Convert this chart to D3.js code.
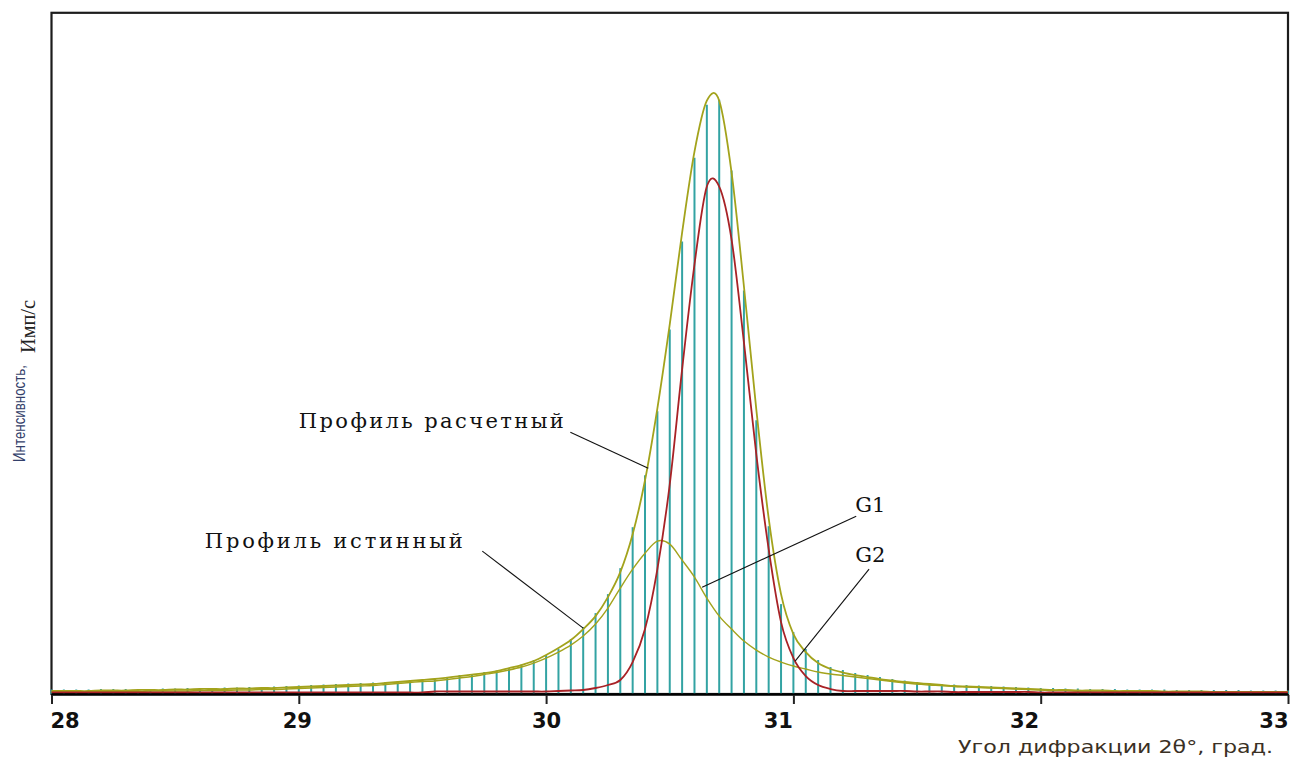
<!DOCTYPE html>
<html><head><meta charset="utf-8">
<script src="https://cdn.jsdelivr.net/npm/d3@7/dist/d3.min.js"></script>
<style>html,body{margin:0;padding:0;background:#fff;} svg{display:block;}</style>
</head><body><svg id="chart" width="1292" height="761"></svg>
<script>
// ---------- DATA ----------
const angles = [
 28.00,28.05,28.10,28.15,28.20,28.25,28.30,28.35,28.40,28.45,
 28.50,28.55,28.60,28.65,28.70,28.75,28.80,28.85,28.90,28.95,
 29.00,29.05,29.10,29.15,29.20,29.25,29.30,29.35,29.40,29.45,
 29.50,29.55,29.60,29.65,29.70,29.75,29.80,29.85,29.90,29.95,
 30.00,30.05,30.10,30.15,30.20,30.25,30.30,30.35,30.40,30.45,
 30.50,30.55,30.60,30.65,30.70,30.75,30.80,30.85,30.90,30.95,
 31.00,31.05,31.10,31.15,31.20,31.25,31.30,31.35,31.40,31.45,
 31.50,31.55,31.60,31.65,31.70,31.75,31.80,31.85,31.90,31.95,
 32.00,32.05,32.10,32.15,32.20,32.25,32.30,32.35,32.40,32.45,
 32.50,32.55,32.60,32.65,32.70,32.75,32.80,32.85,32.90,32.95,
 33.00];
// measured intensity (vertical sticks)
const measured = [
 4.5,4.5,4.5,4.5,5,5,5,5,5,5.5,
 5.5,6,6,6,6.5,6.5,7,7,7.5,8,
 8.5,9,9.5,10,10.5,11,11.5,12,13,14,
 14.5,15.5,17,19,20,22,23.5,26,29.5,34,
 39,45,55,67,81,100,126,167,219,283,
 365,453,537,590,595,524,404,274,168,90,
 62,45,34,27,24,21,19,17,15,13.5,
 12,11,10,9.5,9,8.5,8,7.5,7,6.5,
 6,6,5.5,5.5,5,5,5,4.5,4.5,4.5,
 4.5,4,4,4,4,4,4,3.5,3.5,3.5,
 3.5];
// calculated profile (Профиль расчетный)
const profileCalc = [
 3,3,3,3,3.5,3.5,3.5,4,4,4,
 4.5,4.5,5,5,5,5.5,5.5,6,6,6.5,
 7,7.5,8,8.5,9,9.5,10,11,12,13,
 14,15,16.5,18,19.5,21,23,26,29,33,
 39,46,54,65,78,97,122,160,214,286,
 370,462,543,594,594,522,408,285,176,100,
 60,42,31,25,21.5,19,17,15,13.5,12,
 11,10,9,8,7.5,7,6.5,6,5.5,5,
 4.5,4,4,3.5,3.5,3.5,3,3,3,3,
 2.5,2.5,2.5,2.5,2,2,2,2,2,2,
 2];
// component G1 (narrow peak)
const g1 = [
 1.5,1.5,1.5,1.5,1.5,1.5,1.5,1.5,1.5,1.5,
 1.5,1.5,1.5,1.5,1.5,1.5,1.5,1.5,1.5,1.5,
 1.5,1.5,1.5,1.5,1.5,1.5,1.5,1.5,1.5,1.5,
 1.5,2.5,2.5,2.5,2.5,2.5,2.5,2.5,2.5,2.5,
 2.5,3,3.5,4,6,9,14,32,65,125,
 210,325,430,508,508,455,352,240,145,72,
 36,18,9,5,3,3,3,3,3,3,
 2.5,2.5,2.5,2,2,2,2,2,2,2,
 1.5,1.5,1.5,1.5,1.5,1.5,1.5,1.5,1.5,1.5,
 1.5,1.5,1.5,1.5,1.5,1.5,1.5,1.5,1.5,1.5,
 1.5];
// component G2 (broad peak)
const g2 = [
 2,2,2,2,2.5,2.5,2.5,2.5,3,3,
 3,3,3.5,3.5,3.5,4,4,4.5,4.5,5,
 5.5,6,6.5,7,7.5,8,8.5,9.5,10.5,11.5,
 12.5,13,14.5,16,17.5,19.5,21.5,24,27,31,
 36,42,49,58,70,86,106,125,141,153,
 150,134,117,96,78,65,53,44,37,32,
 28,25,22,20,18.5,17,15.5,14,12.5,11,
 10,9,8.5,7.5,7,6.5,6,5.5,5,4.5,
 4,3.5,3.5,3,3,3,2.5,2.5,2.5,2.5,
 2,2,2,2,2,2,1.5,1.5,1.5,1.5,
 1.5];
const xTickValues = [28, 29, 30, 31, 32, 33];
const xTickLabels = ["28", "29", "30", "31", "32", "33"];
const xTitle = "Угол дифракции 2θ°, град.";
const yTitleMain = "Интенсивность,";
const yTitleUnit = "Имп/с";
// annotation labels: text anchor point and leader line, in data units (angle, intensity)
const annLabels  = ["Профиль расчетный", "Профиль истинный", "G1", "G2"];
const annTextAt  = [[29.00, 266], [28.62, 146], [31.25, 182], [31.25, 132]];
const annLineFrom = [[30.098, 262], [29.742, 143], [31.254, 178], [31.306, 125]];
const annLineTo   = [[30.413, 226], [30.150, 66], [30.631, 107], [31.007, 33]];

// ---------- DRAWING ----------
const svg = d3.select("#chart");
const x = d3.scaleLinear().domain([28, 33]).range([51.5, 1288]);
const y = d3.scaleLinear().domain([0, 682]).range([694, 12.8]);

const OLIVE = "#a3a31c", RED = "#a82226", TEAL = "#33a3a3";

// frame
svg.append("rect")
  .attr("x", x(28)).attr("y", y(682))
  .attr("width", x(33) - x(28)).attr("height", y(0) - y(682))
  .attr("fill", "none").attr("stroke", "#1c1c1c").attr("stroke-width", 2.2);

// sticks
svg.append("g").selectAll("line")
  .data(angles.map((a, i) => ({a, v: measured[i]})))
  .join("line")
  .attr("x1", d => x(d.a)).attr("x2", d => x(d.a))
  .attr("y1", y(0)).attr("y2", d => y(d.v))
  .attr("stroke", TEAL).attr("stroke-width", 2);

const line = d3.line().x(d => x(d.a)).y(d => y(d.v)).curve(d3.curveCatmullRom.alpha(0));
const series = [
  {vals: g2, color: OLIVE, w: 1.4},
  {vals: profileCalc, color: OLIVE, w: 1.8},
  {vals: g1, color: RED, w: 1.8}
];
series.forEach(s => {
  svg.append("path")
    .datum(angles.map((a, i) => ({a, v: s.vals[i]})))
    .attr("d", line)
    .attr("fill", "none").attr("stroke", s.color).attr("stroke-width", s.w);
});

// baseline
svg.append("line")
  .attr("x1", x(28)).attr("x2", x(33)).attr("y1", y(0) + 0.5).attr("y2", y(0) + 0.5)
  .attr("stroke", "#000").attr("stroke-width", 2.6);

// x axis
const axis = d3.axisBottom(x).tickValues(xTickValues)
  .tickFormat((d, i) => xTickLabels[i]).tickSize(9).tickSizeOuter(0);
const gx = svg.append("g").attr("transform", `translate(0,${y(0) + 1})`).call(axis);
gx.select(".domain").remove();
gx.selectAll(".tick line").attr("stroke", "#222").attr("stroke-width", 2);
const anchors = ["start", "middle", "middle", "end", "end", "end"];
const dxs = [-1.5, -2, 0, -1, -2, 0];
gx.selectAll(".tick text")
  .attr("y", 33).attr("dy", 0)
  .attr("text-anchor", (d, i) => anchors[i])
  .attr("dx", (d, i) => dxs[i])
  .attr("fill", "#111")
  .style("font-family", "'DejaVu Sans', sans-serif")
  .style("font-weight", "bold").style("font-size", "21px");

// x title
svg.append("text")
  .attr("x", 1273).attr("y", 753).attr("text-anchor", "end")
  .attr("fill", "#3a3024")
  .style("font-family", "'DejaVu Sans', sans-serif").style("font-size", "18px")
  .attr("textLength", 315).attr("lengthAdjust", "spacingAndGlyphs")
  .text(xTitle);

// y titles
svg.append("text")
  .attr("transform", "translate(25,462) rotate(-90)")
  .attr("fill", "#33406a")
  .style("font-family", "'Liberation Sans', sans-serif").style("font-size", "17px")
  .attr("textLength", 97).attr("lengthAdjust", "spacingAndGlyphs")
  .text(yTitleMain);
svg.append("text")
  .attr("transform", "translate(35,353) rotate(-90)")
  .attr("fill", "#222")
  .style("font-family", "'Liberation Serif', serif").style("font-size", "20px")
  .attr("textLength", 53).attr("lengthAdjust", "spacingAndGlyphs")
  .text(yTitleUnit);

// annotations
const annWidths = [265, 258, null, null];
annLabels.forEach((t, i) => {
  svg.append("line")
    .attr("x1", x(annLineFrom[i][0])).attr("y1", y(annLineFrom[i][1]))
    .attr("x2", x(annLineTo[i][0])).attr("y2", y(annLineTo[i][1]))
    .attr("stroke", "#111").attr("stroke-width", 1.1);
  const tx = svg.append("text")
    .attr("x", x(annTextAt[i][0])).attr("y", y(annTextAt[i][1]))
    .attr("fill", "#111")
    .style("font-family", "'DejaVu Serif', serif").style("font-size", "21px")
    .text(t);
  if (annWidths[i]) tx.attr("textLength", annWidths[i]).attr("lengthAdjust", "spacing");
});
</script></body></html>
